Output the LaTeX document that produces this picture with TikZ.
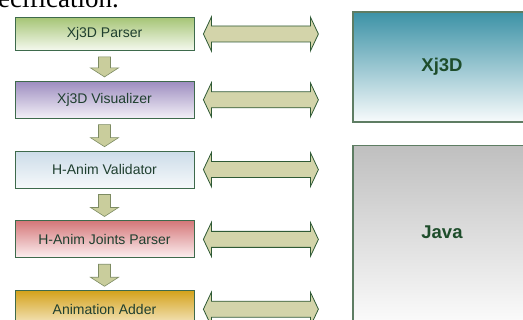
\documentclass[tikz,border=0pt]{standalone}
\usepackage{fontspec}
\setmainfont{Liberation Sans}
\newfontfamily\pageserif{Liberation Serif}
\usepackage{tikz}
\usetikzlibrary{positioning, calc}

\definecolor{boxline}{HTML}{3E6A4C}
\definecolor{labelgreen}{HTML}{1F3F2F}
\definecolor{titlegreen}{HTML}{1E4D2B}
\definecolor{platline}{HTML}{5E7D63}
\definecolor{downfill}{HTML}{C9CD9C}
\definecolor{downline}{HTML}{7D8B62}
\definecolor{sidefill}{HTML}{D3D4AA}
\definecolor{sideline}{HTML}{2F5A35}

\begin{document}
\begin{tikzpicture}[x=1pt,y=1pt]

% Define block styles
\tikzstyle{stage} = [rectangle, minimum width=179pt, minimum height=37pt, text centered, draw=boxline, line width=0.8pt, text=labelgreen, font=\fontsize{14}{16}\selectfont]
\tikzstyle{platform} = [rectangle, minimum width=178pt, text centered, draw=platline, line width=1.2pt, text=titlegreen, font=\fontsize{18.5}{20}\selectfont\bfseries]
\tikzstyle{downblock} = [draw=downline, fill=downfill, line width=0.6pt, to path={let \p1=(\tikztostart.south), \p2=(\tikztotarget.north) in (\x1-6pt,\y1-6pt) -- (\x1+6pt,\y1-6pt) -- (\x1+6pt,\y2+13pt) -- (\x1+14pt,\y2+13pt) -- (\x1,\y2+4pt) -- (\x1-14pt,\y2+13pt) -- (\x1-6pt,\y2+13pt) -- cycle}]
\tikzstyle{sideblock} = [draw=sideline, fill=sidefill, line width=0.8pt, to path={let \p1=([xshift=9pt]\tikztostart.east), \p2=(\tikztotarget) in (\x1,\y1) -- (\x1+8pt,\y1+17pt) -- (\x1+8pt,\y1+8pt) -- (\x2-8pt,\y1+8pt) -- (\x2-8pt,\y1+17pt) -- (\x2,\y1) -- (\x2-8pt,\y1-17pt) -- (\x2-8pt,\y1-8pt) -- (\x1+8pt,\y1-8pt) -- (\x1+8pt,\y1-17pt) -- cycle}]

\useasboundingbox (0,0) rectangle (523,-320);
\clip (0,0) rectangle (523,-320);

% Text of the page above
\node (pagetext) [anchor=base west, inner sep=0pt, font=\pageserif\fontsize{27}{30}\selectfont] at (-2,-8) {ecification.};

% Define nodes
\node (parser) [stage, minimum height=33pt, top color={rgb,255:red,166;green,197;blue,118}, bottom color={rgb,255:red,245;green,249;blue,239}] at (104.5,-34) {Xj3D Parser};
\node (visualizer) [stage, below=30pt of parser, top color={rgb,255:red,157;green,141;blue,192}, bottom color={rgb,255:red,243;green,240;blue,247}] {Xj3D Visualizer};
\node (validator) [stage, below=32pt of visualizer, top color={rgb,255:red,204;green,220;blue,232}, bottom color={rgb,255:red,246;green,249;blue,251}] {H-Anim Validator};
\node (jointsparser) [stage, below=32pt of validator, top color={rgb,255:red,213;green,120;blue,122}, bottom color={rgb,255:red,252;green,240;blue,241}] {H-Anim Joints Parser};
\node (adder) [stage, below=32pt of jointsparser, top color={rgb,255:red,212;green,162;blue,28}, bottom color={rgb,255:red,247;green,237;blue,207}] {Animation Adder};

\node (xjd) [platform, minimum height=110pt, top color={rgb,255:red,60;green,146;blue,166}, bottom color={rgb,255:red,248;green,251;blue,252}] at (442,-67) {Xj3D};
\node (java) [platform, minimum height=175pt, below=22pt of xjd, top color={rgb,255:red,191;green,191;blue,191}, bottom color={rgb,255:red,250;green,250;blue,250}] {Java};

% Draw arrows
\draw [downblock] (parser) to (visualizer);
\draw [downblock] (visualizer) to (validator);
\draw [downblock] (validator) to (jointsparser);
\draw [downblock] (jointsparser) to (adder);

\coordinate (parserend) at ([xshift=124pt]parser.east);
\coordinate (visualizerend) at ([xshift=124pt]visualizer.east);
\coordinate (validatorend) at ([xshift=124pt]validator.east);
\coordinate (jointsparserend) at ([xshift=124pt]jointsparser.east);
\coordinate (adderend) at ([xshift=124pt]adder.east);

\draw [sideblock] (parser) to (parserend);
\draw [sideblock] (visualizer) to (visualizerend);
\draw [sideblock] (validator) to (validatorend);
\draw [sideblock] (jointsparser) to (jointsparserend);
\draw [sideblock] (adder) to (adderend);

\end{tikzpicture}
\end{document}
